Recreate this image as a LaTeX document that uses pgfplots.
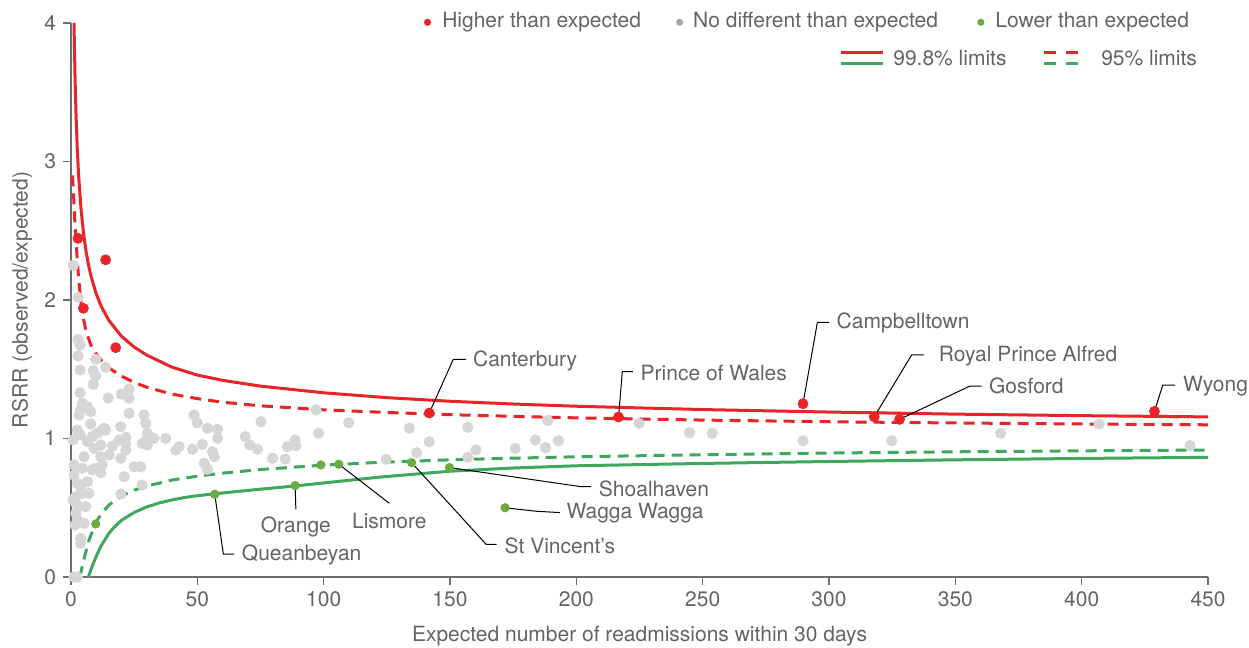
\documentclass[border=0pt]{standalone}
\usepackage{pgfplots}
\pgfplotsset{compat=1.18}
\usepackage{fontspec}
\setmainfont{TeX Gyre Heros}
\definecolor{cred}{RGB}{232,36,40}
\definecolor{cgreenl}{RGB}{64,168,92}
\definecolor{cgreenp}{RGB}{106,172,64}
\definecolor{cgreyp}{RGB}{214,214,214}
\definecolor{cgreyl}{RGB}{166,166,166}
\definecolor{ctext}{RGB}{100,100,100}
\definecolor{caxis}{RGB}{110,110,110}
\newcommand{\fs}{\fontsize{10.5}{12.5}\selectfont}

\pgfplotstableread{
x y
1.19 4.0
1.3 3.894
1.6 3.609
2 3.333
2.5 3.087
3 2.905
4 2.65
5 2.476
6 2.347
7 2.247
8 2.167
10 2.044
12 1.953
15 1.852
20 1.738
25 1.66
30 1.602
40 1.515
50 1.458
60 1.42
75 1.378
100 1.33
125 1.295
150 1.269
175 1.249
200 1.233
250 1.209
300 1.191
350 1.176
400 1.165
450 1.156
}\upperhigh

\pgfplotstableread{
x y
0.6 2.90
1.0 2.76
1.5 2.58
2.0 2.42
3.0 2.16
4.0 1.98
5.0 1.86
6.0 1.77
8 1.67
10 1.61
12 1.565
15 1.51
20 1.45
25 1.405
30 1.37
40 1.32
50 1.288
60 1.262
75 1.236
100 1.207
125 1.188
150 1.172
175 1.16
200 1.149
250 1.133
300 1.121
350 1.112
400 1.105
450 1.099
}\upperlow

\pgfplotstableread{
x y
3.5 0
5 0.12
7 0.26
10 0.40
12 0.455
15 0.52
20 0.585
25 0.627
30 0.657
40 0.70
50 0.728
60 0.75
75 0.776
100 0.808
125 0.83
150 0.846
175 0.858
200 0.868
250 0.883
300 0.895
350 0.904
400 0.911
450 0.917
}\lowerlow

\pgfplotstableread{
x y
6.9 0
8 0.06
10 0.15
12 0.228
15 0.315
17 0.358
20 0.41
25 0.466
30 0.506
35 0.535
40 0.557
45 0.574
50 0.587
57 0.601
65 0.616
75 0.634
89 0.658
100 0.679
122 0.721
150 0.764
175 0.787
200 0.803
250 0.82
300 0.834
350 0.846
400 0.856
450 0.864
}\lowerhigh

\pgfplotstableread{
x y
0.9 2.25
2.8 2.02
2.8 1.716
3.6 1.675
2.8 1.596
9.8 1.572
13.7 1.514
3.6 1.495
8.8 1.49
9.8 1.451
8.8 1.391
3.6 1.331
14.7 1.292
23.0 1.357
23.0 1.292
19.9 1.321
4.5 1.254
6.5 1.23
7.8 1.194
3.2 1.17
3.8 1.21
23.0 1.182
28.9 1.17
29.6 1.11
48.7 1.17
50.0 1.114
7.8 1.105
13.1 1.074
19.7 1.085
54.0 1.074
58.0 1.066
75.2 1.121
2.5 1.061
3.8 1.025
12.4 1.061
13.7 1.061
10.4 1.038
8.4 1.013
30.2 1.038
29.8 0.989
58.0 1.001
21.7 1.009
19.0 0.989
32.9 1.001
37.5 1.001
6.5 0.977
9.1 0.929
11.8 0.953
16.4 0.946
21.7 0.965
28.2 0.965
30.2 0.953
42.8 0.941
41.5 0.917
48.1 0.922
52.0 0.958
56.0 0.905
56.7 0.869
21.7 0.917
5.2 0.869
11.8 0.869
15.1 0.881
19.7 0.857
12.4 0.809
9.8 0.785
8.4 0.773
11.8 0.753
1.2 0.809
1.2 0.736
4.5 0.785
25.0 0.796
27.6 0.796
52.7 0.821
54.0 0.778
2.5 0.677
6.5 0.688
3.8 0.652
7.1 0.604
4.5 0.604
21.0 0.724
28.2 0.664
19.7 0.599
1.9 0.58
1.9 0.532
3.2 0.508
5.8 0.508
1.9 0.46
2.5 0.412
5.2 0.388
3.8 0.279
3.8 0.243
1.2 0
2.5 0
0.8 0.99
0.8 0.556
1.6 0.375
69.0 1.013
70.8 0.953
73.8 0.922
79.8 0.857
84.8 0.852
85.7 0.941
88.7 0.989
89.0 0.948
97.0 1.206
98.0 1.038
109.9 1.114
124.7 0.85
133.9 1.074
136.8 0.897
141.8 0.977
157.0 1.081
157.0 0.864
160.3 0.917
175.8 0.929
183.8 0.989
187.8 0.934
192.9 0.984
188.7 1.129
224.8 1.11
244.8 1.042
253.8 1.038
289.7 0.984
324.8 0.984
367.9 1.038
406.9 1.105
442.9 0.948
}\greypts

\pgfplotstableread{
x y
2.77 2.445
13.7 2.29
4.9 1.94
17.7 1.656
141.8 1.184
216.7 1.155
289.7 1.251
317.9 1.157
327.9 1.138
428.8 1.196
}\redpts

\pgfplotstableread{
x y
9.8 0.383
56.9 0.597
88.7 0.66
98.9 0.809
106.0 0.814
134.8 0.826
149.8 0.79
171.8 0.50
}\greenpts

\begin{document}
\begin{tikzpicture}[every node/.append style={text=ctext}]
\begin{axis}[
  scale only axis, width=568.5pt, height=277pt,
  xmin=0, xmax=450, ymin=0, ymax=4,
  axis x line*=bottom, axis y line*=left,
  axis line style={caxis, line width=0.9pt},
  xtick={0,50,...,450}, ytick={0,1,2,3,4},
  tick align=outside, major tick length=4pt,
  tick style={caxis, line width=0.7pt},
  tick label style={font=\fs, text=ctext},
  /pgf/number format/assume math mode=true,
  xlabel={Expected number of readmissions within 30 days},
  ylabel={RSRR (observed/expected)},
  x label style={at={(axis description cs:0.5,-0.1065)}, anchor=center, font=\fs, text=ctext},
  y label style={at={(axis description cs:-0.0431,0.5)}, anchor=center, font=\fs, text=ctext},
  clip=false,
]
% limits
\addplot[cred, line width=1.5pt, no markers] table {\upperhigh};
\addplot[cred, line width=1.5pt, no markers, dash pattern=on 5.5pt off 3.5pt] table {\upperlow};
\addplot[cgreenl, line width=1.5pt, no markers, dash pattern=on 5.5pt off 3.5pt] table {\lowerlow};
\addplot[cgreenl, line width=1.5pt, no markers] table {\lowerhigh};

% leader lines
\begin{scope}[black, line width=0.5pt]
\draw (axis cs:141.8,1.184) -- (axis cs:151.3,1.572) -- (axis cs:156.4,1.572);
\draw (axis cs:216.7,1.155) -- (axis cs:218.2,1.482) -- (axis cs:222.4,1.482);
\draw (axis cs:289.7,1.251) -- (axis cs:295.4,1.839) -- (axis cs:300,1.839);
\draw (axis cs:317.9,1.157) -- (axis cs:332.7,1.603) -- (axis cs:337.6,1.603);
\draw (axis cs:327.9,1.138) -- (axis cs:355.8,1.379) -- (axis cs:360.4,1.379);
\draw (axis cs:428.8,1.196) -- (axis cs:432.1,1.386) -- (axis cs:437,1.386);
\draw (axis cs:56.9,0.597) -- (axis cs:60.3,0.166) -- (axis cs:64.6,0.166);
\draw (axis cs:88.7,0.66) -- (axis cs:89,0.489);
\draw (axis cs:106,0.814) -- (axis cs:126,0.532);
\draw (axis cs:134.8,0.826) -- (axis cs:164.3,0.236) -- (axis cs:168.5,0.236);
\draw (axis cs:149.8,0.79) -- (axis cs:201.9,0.652) -- (axis cs:205.9,0.652);
\draw (axis cs:171.8,0.50) -- (axis cs:184,0.475) -- (axis cs:193.5,0.465);
\end{scope}

% points
\addplot[only marks, mark=*, mark size=2.6pt, color=cgreyp, mark options={draw=cgreyp, fill=cgreyp}] table {\greypts};
\addplot[only marks, mark=*, mark size=2.5pt, color=cred, mark options={draw=cred, fill=cred}] table {\redpts};
\addplot[only marks, mark=*, mark size=2.1pt, color=cgreenp, mark options={draw=cgreenp, fill=cgreenp}] table {\greenpts};

% labels
\begin{scope}[every node/.style={font=\fs, text=ctext, inner sep=0pt}]
\node[anchor=west] at (axis cs:159.0,1.56) {Canterbury};
\node[anchor=west] at (axis cs:225.3,1.473) {Prince of Wales};
\node[anchor=west] at (axis cs:302.9,1.834) {Campbelltown};
\node[anchor=west] at (axis cs:343.3,1.596) {Royal Prince Alfred};
\node[anchor=west] at (axis cs:363.2,1.379) {Gosford};
\node[anchor=west] at (axis cs:440,1.379) {Wyong};
\node[anchor=west] at (axis cs:67.5,0.159) {Queanbeyan};
\node[anchor=center] at (axis cs:89,0.359) {Orange};
\node[anchor=center] at (axis cs:126,0.404) {Lismore};
\node[anchor=west] at (axis cs:171.5,0.224) {St Vincent's};
\node[anchor=west] at (axis cs:208.8,0.633) {Shoalhaven};
\node[anchor=west] at (axis cs:196,0.46) {Wagga Wagga};
% legend
\fill[cred] (axis cs:141.1,4.005) circle (1.8pt);
\node[anchor=west] at (axis cs:146.8,4.005) {Higher than expected};
\fill[cgreyl] (axis cs:240.9,4.005) circle (1.8pt);
\node[anchor=west] at (axis cs:246.1,4.005) {No different than expected};
\fill[cgreenp] (axis cs:360.1,4.005) circle (1.8pt);
\node[anchor=west] at (axis cs:365.7,4.005) {Lower than expected};
\draw[cred, line width=1.5pt] (axis cs:304.7,3.79) -- (axis cs:321.3,3.79);
\draw[cgreenl, line width=1.5pt] (axis cs:304.7,3.704) -- (axis cs:321.3,3.704);
\node[anchor=west] at (axis cs:325.3,3.747) {99.8\% limits};
\draw[cred, line width=1.5pt, dash pattern=on 6pt off 5pt] (axis cs:385.1,3.79) -- (axis cs:402.5,3.79);
\draw[cgreenl, line width=1.5pt, dash pattern=on 6pt off 5pt] (axis cs:385.1,3.704) -- (axis cs:402.5,3.704);
\node[anchor=west] at (axis cs:407.6,3.747) {95\% limits};
\end{scope}
\end{axis}
\pgfresetboundingbox
\path[use as bounding box] ([xshift=-35.5pt,yshift=-35pt]current axis.south west) rectangle ([xshift=20.5pt,yshift=11.5pt]current axis.north east);
\end{tikzpicture}
\end{document}
